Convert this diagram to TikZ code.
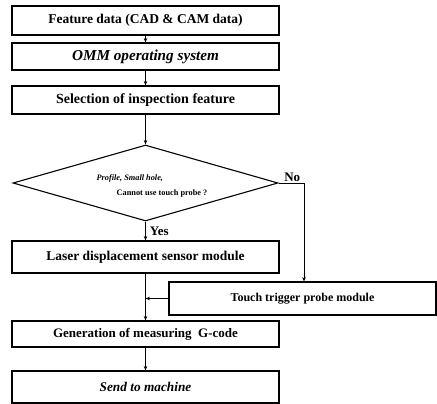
\documentclass[tikz,border=0pt]{standalone}
\usepackage{fontspec}
\setmainfont{Liberation Serif}
\usetikzlibrary{shapes.geometric}
\usetikzlibrary{arrows.meta}
\tikzstyle{chart} = [x = 1pt, y = -1pt]
\tikzstyle{boxStyle} = [draw, rectangle, line width = 1.1pt, minimum width = 267pt, inner sep = 0pt]
\tikzstyle{decisionStyle} = [draw, diamond, line width = 1.1pt, minimum width = 265pt, minimum height = 76pt, inner sep = 0pt, aspect = 3.5]
\tikzstyle{decisionText} = [align = left, inner sep = 0pt, font = \fontsize{8.3}{14.5}\selectfont\bfseries]
\tikzstyle{flowLine} = [line width = .8pt, -{Stealth[length = 4.5pt, width = 3.5pt]}]
\tikzstyle{plainLine} = [line width = .8pt]
\tikzstyle{answerText} = [font = \fontsize{13}{15}\selectfont\bfseries, inner sep = 1pt]
\newcommand{\flowBox}[5]{\node [boxStyle, minimum height = #3pt, font = \fontsize{#4}{#4}\selectfont\bfseries] (#1) at #2 {#5};}

\begin{document}
\begin{tikzpicture}[chart]
  \useasboundingbox (0,0) rectangle (437,404);

  % main column
  \flowBox{feature}{(145.5,20.5)}{29}{13.5}{Feature data (CAD \& CAM data)}
  \flowBox{omm}{(145.5,56.5)}{27}{15.2}{\textit{OMM operating system}}
  \flowBox{selection}{(145.5,100)}{28}{14}{Selection of inspection feature}
  \node [decisionStyle] (decision) at (145.5,183) {};
  \node [decisionText] (decisionLabel) at (152,186)
    {\textit{Profile, Small hole,}\\\hspace*{20pt}Cannot use touch probe ?};
  \flowBox{laser}{(145.5,257)}{32}{13.5}{Laser displacement sensor module}
  \flowBox{touch}{(302.5,298.5)}{33}{12}{Touch trigger probe module}
  \flowBox{gcode}{(145.5,334)}{26}{13}{Generation of measuring\ \ G-code}
  \flowBox{send}{(145.5,387)}{32}{13.3}{\textit{Send to machine}}

  % connectors
  \draw [flowLine] (feature) -- (omm);
  \draw [flowLine] (omm) -- (selection);
  \draw [flowLine] (selection) -- (decision.north);
  \draw [flowLine] (decision.south) -- node [answerText, anchor = west, xshift = 3pt] (yes) {Yes} (laser);
  \coordinate (noCorner) at (304,183);
  \draw [plainLine] (decision.east) -- node [answerText, above, xshift = 1pt] (no) {No} (noCorner);
  \draw [flowLine] (noCorner) -- (noCorner |- touch.north);
  \draw [flowLine] (laser) -- (gcode);
  \draw [flowLine] (touch.west) -- (touch.west -| laser.south);
  \draw [flowLine] (gcode) -- (send);
\end{tikzpicture}
\end{document}
